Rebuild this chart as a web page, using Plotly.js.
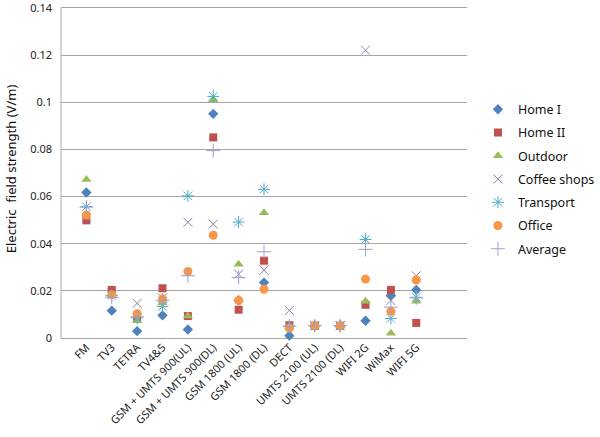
<!DOCTYPE html>
<html>
<head>
<meta charset="utf-8">
<script src="https://cdn.plot.ly/plotly-3.0.1.min.js"></script>
<style>html,body{margin:0;padding:0;background:#fff;}#chart{width:600px;height:437px;}</style>
</head>
<body>
<div id="chart"></div>
<script>
var categories = ["FM", "TV3", "TETRA", "TV4&5", "GSM + UMTS 900(UL)", "GSM + UMTS 900(DL)", "GSM 1800 (UL)", "GSM 1800 (DL)", "DECT", "UMTS 2100 (UL)", "UMTS 2100 (DL)", "WIFI 2G", "WiMax", "WIFI 5G"];
var homeI      = [0.0617, 0.0116, 0.0029, 0.0096, 0.0036, 0.0951, 0.0160, 0.0235, 0.0010, 0.0052, 0.0052, 0.0073, 0.0180, 0.0204];
var homeII     = [0.0499, 0.0204, 0.0089, 0.0211, 0.0093, 0.0851, 0.0120, 0.0328, 0.0054, 0.0052, 0.0052, 0.0141, 0.0204, 0.0064];
var outdoor    = [0.0672, 0.0180, 0.0073, 0.0148, 0.0093, 0.1011, 0.0313, 0.0531, 0.0050, 0.0052, 0.0052, 0.0156, 0.0020, 0.0156];
var coffee     = [0.0510, 0.0190, 0.0147, 0.0170, 0.0491, 0.0483, 0.0271, 0.0288, 0.0117, 0.0052, 0.0052, 0.1221, 0.0159, 0.0264];
var transport  = [0.0557, 0.0180, 0.0085, 0.0134, 0.0603, 0.1025, 0.0492, 0.0631, 0.0050, 0.0052, 0.0052, 0.0418, 0.0083, 0.0173];
var office     = [0.0522, 0.0184, 0.0103, 0.0166, 0.0282, 0.0436, 0.0159, 0.0207, 0.0042, 0.0052, 0.0052, 0.0250, 0.0113, 0.0246];
var average    = [0.0555, 0.0173, 0.0090, 0.0160, 0.0264, 0.0795, 0.0257, 0.0366, 0.0050, 0.0052, 0.0052, 0.0376, 0.0131, 0.0170];
var seriesNames = ["Home I", "Home II", "Outdoor", "Coffee shops", "Transport", "Office", "Average"];
var yTicks = [0, 0.02, 0.04, 0.06, 0.08, 0.1, 0.12, 0.14];
var yTickLabels = ["0", "0.02", "0.04", "0.06", "0.08", "0.1", "0.12", "0.14"];

var styles = [
  {symbol: "diamond", color: "#4F81BD", size: 8, line: {width: 0}},
  {symbol: "square", color: "#C0504D", size: 8, line: {width: 0}},
  {symbol: "triangle-up", color: "#9BBB59", size: 9, line: {width: 0}},
  {symbol: "x-thin-open", color: "#8E7FA8", size: 9, line: {width: 1, color: "#8E7FA8"}},
  {symbol: "asterisk-open", color: "#4BACC6", size: 10, line: {width: 1, color: "#4BACC6"}},
  {symbol: "circle", color: "#F79646", size: 9, line: {width: 0}},
  {symbol: "cross-thin-open", color: "#9A9FCB", size: 10, line: {width: 1, color: "#9A9FCB"}}
];
var allSeries = [homeI, homeII, outdoor, coffee, transport, office, average];

var traces = allSeries.map(function(vals, i) {
  return {
    type: "scatter",
    mode: "markers",
    name: seriesNames[i],
    legendgroup: "g" + i,
    x: categories,
    y: vals,
    cliponaxis: false,
    marker: {symbol: styles[i].symbol, color: styles[i].color, size: styles[i].size, line: styles[i].line}
  };
});

var layout = {
  width: 600,
  height: 437,
  margin: {l: 61, r: 110, t: 0, b: 99},
  paper_bgcolor: "#ffffff",
  plot_bgcolor: "#ffffff",
  font: {family: "Noto Sans, Open Sans, sans-serif", size: 11, color: "#222"},
  showlegend: true,
  legend: {
    x: 1.027, xanchor: "left", y: 0.72, yanchor: "top",
    font: {size: 12.5, color: "#111"},
    tracegroupgap: 4,
    itemwidth: 30,
    bgcolor: "rgba(0,0,0,0)"
  },
  shapes: [{
    type: "line", xref: "paper", yref: "y",
    x0: 0, x1: 0, y0: 0, y1: yTicks[yTicks.length - 1],
    line: {color: "#A6A6A6", width: 1}
  }],
  xaxis: {
    type: "category",
    range: [-1.0, 15.0],
    tickangle: -45,
    showgrid: false,
    zeroline: false,
    showline: false,
    ticks: "",
    tickfont: {size: 11, color: "#222"}
  },
  yaxis: {
    range: [0, 0.14339],
    tickvals: yTicks,
    ticktext: yTickLabels,
    showgrid: true,
    gridcolor: "#A6A6A6",
    gridwidth: 1,
    zeroline: true,
    zerolinecolor: "#A6A6A6",
    zerolinewidth: 1,
    showline: false,
    ticks: "",
    ticklabelstandoff: 8,
    ticklabeloverflow: "allow",
    tickfont: {size: 11, color: "#222"},
    title: {text: "Electric  field strength (V/m)", font: {size: 13, color: "#111"}, standoff: 10}
  }
};

Plotly.newPlot("chart", traces, layout, {displayModeBar: false, staticPlot: true});
</script>
</body>
</html>
